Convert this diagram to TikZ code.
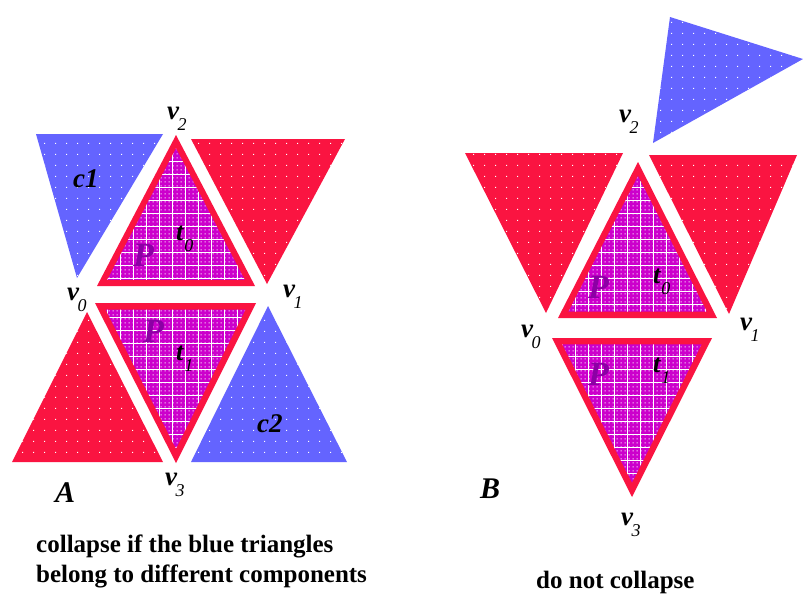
\documentclass[tikz,border=0pt]{standalone}
\usepackage{fontspec}
\setmainfont{Liberation Serif}
\usetikzlibrary{calc,patterns.meta}
\definecolor{tred}{RGB}{250,20,65}
\definecolor{tblue}{RGB}{100,100,255}
\definecolor{tmag}{RGB}{204,0,204}
\definecolor{tpurp}{RGB}{140,0,165}
\tikzdeclarepattern{name=fdots, type=uncolored, bounding box={(0pt,0pt) and (4pt,4pt)}, tile size={(4pt,4pt)}, code={\fill (0.8pt,0.8pt) rectangle (2.1pt,2.1pt);}}
\tikzdeclarepattern{name=sdots, type=uncolored, bounding box={(0pt,0pt) and (11pt,11pt)}, tile size={(11pt,11pt)}, code={\fill (0pt,0pt) rectangle (1.2pt,1.2pt);}}
\newcommand\vlab[1]{{\fontsize{27}{27}\selectfont\bfseries\itshape v}\kern-1.5pt\raisebox{-11pt}{\fontsize{18}{18}\selectfont\itshape #1}}
\newcommand\tlab[1]{{\fontsize{26}{26}\selectfont\bfseries\itshape t}\kern1pt\raisebox{-11pt}{\fontsize{18}{18}\selectfont\itshape #1}}
\newcommand\plaintri[4]{\fill[#1] #2 -- #3 -- #4 -- cycle;
  \fill[pattern=sdots, pattern color=white] #2 -- #3 -- #4 -- cycle;}
\newcommand\facetri[4]{\fill[tred] #1 -- #2 -- #3 -- cycle;
  \begin{scope}
  \clip ($#4!0.87!#1$) -- ($#4!0.87!#2$) -- ($#4!0.87!#3$) -- cycle;
  \fill[tmag] (0,0) rectangle (803,595);
  \fill[pattern=fdots, pattern color=white] (0,0) rectangle (803,595);
  \foreach \gx in {3,16,...,803} {\draw[gridln] (\gx,0) -- (\gx,595);}
  \foreach \gy in {5,18,...,595} {\draw[gridln] (0,\gy) -- (803,\gy);}
  \end{scope}}
\begin{document}
\begin{tikzpicture}[x=1pt,y=-1pt,
  lab/.style={inner sep=0pt, anchor=base west},
  vl/.style={lab},
  pl/.style={lab, text=tpurp, font=\fontsize{34}{34}\selectfont\bfseries\itshape},
  big/.style={lab, font=\fontsize{30}{30}\selectfont\bfseries\itshape},
  cl/.style={lab, font=\fontsize{27}{27}\selectfont\bfseries\itshape},
  capt/.style={lab, font=\fontsize{25}{25}\selectfont\bfseries},
  gridln/.style={white, line width=0.7pt}]
\useasboundingbox (0,0) rectangle (803,595);
\fill[white] (0,0) rectangle (803,595);
% ---------- A ----------
\plaintri{tblue}{(36,134)}{(163,134)}{(77,278)}
\plaintri{tred}{(191,139)}{(345,139)}{(267,284)}
\plaintri{tred}{(12,462)}{(163,462)}{(87,312)}
\plaintri{tblue}{(268,306)}{(191,462)}{(347,462)}
\facetri{(176,135)}{(97,286)}{(255,286)}{(176,238)}
\facetri{(95,303)}{(256,303)}{(176,463)}{(176,353)}
\node[vl] (a2) at (167,119) {\vlab{2}};
\node[vl] (a0) at (67,300) {\vlab{0}};
\node[vl] (a1) at (283,297) {\vlab{1}};
\node[vl] (a3) at (165,485) {\vlab{3}};
\node[vl] (at0) at (176,240) {\tlab{0}};
\node[vl] (at1) at (176,360) {\tlab{1}};
\node[pl] (ap0) at (133,266) {P};
\node[pl] (ap1) at (143,342) {P};
\node[cl] (c1) at (73,187) {c1};
\node[cl] (c2) at (257,432) {c2};
\node[big] (A) at (55,502) {A};
\node[capt] (capa1) at (36,552) {collapse if the blue triangles};
\node[capt] (capa2) at (36,582) {belong to different components};
% ---------- B ----------
\plaintri{tblue}{(670,17)}{(803,59)}{(653,143)}
\plaintri{tred}{(465,153)}{(623,153)}{(546,313)}
\plaintri{tred}{(649,155)}{(797,155)}{(729,314)}
\facetri{(638,162)}{(558,318)}{(717,318)}{(638,269)}
\facetri{(552,338)}{(712,338)}{(632,497)}{(632,387)}
\node[vl] (b2) at (619,122) {\vlab{2}};
\node[vl] (b0) at (521,337) {\vlab{0}};
\node[vl] (b1) at (740,330) {\vlab{1}};
\node[vl] (b3) at (621,525) {\vlab{3}};
\node[vl] (bt0) at (653,283) {\tlab{0}};
\node[vl] (bt1) at (653,372) {\tlab{1}};
\node[pl] (bp0) at (588,298) {P};
\node[pl] (bp1) at (588,385) {P};
\node[big] (B) at (480,498) {B};
\node[capt] (capb) at (536,588) {do not collapse};
\end{tikzpicture}
\end{document}
